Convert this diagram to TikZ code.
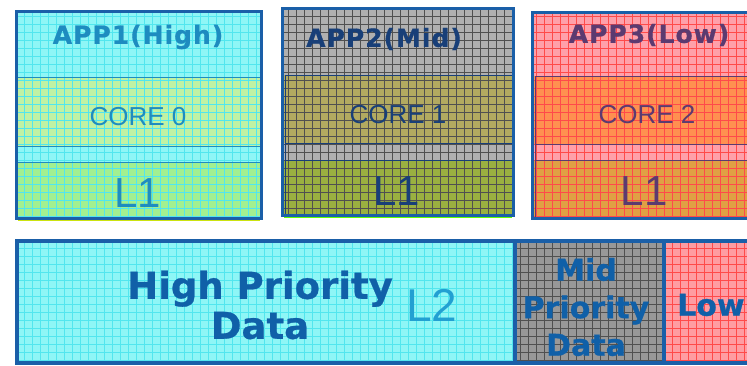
\documentclass[tikz,border=0pt]{standalone}
\usepackage{fontspec}
\newfontfamily\headfont{DejaVu Sans}[LetterSpace=4, BoldFeatures={FakeBold=0.7}]
\newfontfamily\blockfont{DejaVu Sans}[BoldFeatures={FakeBold=0.7}]
\newfontfamily\plainfont{Liberation Sans}

\definecolor{frameblue}{HTML}{1A5FA8}
\definecolor{cyanfill}{HTML}{8EF6F6}
\definecolor{cyangrid}{HTML}{52E6EE}
\definecolor{corecyan}{HTML}{C0F2A4}
\definecolor{l1cyan}{HTML}{A2F090}
\definecolor{grayfill}{HTML}{B0B0B0}
\definecolor{darkgrid}{HTML}{505050}
\definecolor{coreolive}{HTML}{B2AA60}
\definecolor{l1olive}{HTML}{9AB040}
\definecolor{pinkfill}{HTML}{FFA0AA}
\definecolor{redgrid}{HTML}{FF4A4A}
\definecolor{coreorange}{HTML}{FF9050}
\definecolor{l1orange}{HTML}{E0A044}
\definecolor{midgray}{HTML}{989898}
\definecolor{lowpink}{HTML}{FF9CA2}
\definecolor{txtteal}{HTML}{1E8CC0}
\definecolor{txtnavy}{HTML}{183F78}
\definecolor{txtplum}{HTML}{5C3A70}
\definecolor{txtblue}{HTML}{1060A8}
\definecolor{txtlight}{HTML}{22A0D2}

% filled panel with a square grid laid over it
\newcommand\gridpanel[6]{%
  \begin{scope}
    \clip (#1,#2) rectangle (#3,#4);
    \fill[#5] (#1,#2) rectangle (#3,#4);
    \foreach \gx in {0,8,...,760} \draw[#6, line width=0.45pt] (\gx,#2) -- (\gx,#4);
    \foreach \gy in {0,8,...,376} \draw[#6, line width=0.45pt] (#1,\gy) -- (#3,\gy);
  \end{scope}}

\tikzset{
  x=1pt, y=-1pt,
  frame/.style={draw=frameblue, line width=3pt},
  bigframe/.style={draw=frameblue, line width=3.8pt},
  divider/.style={line width=0.8pt},
  apptitle/.style={font=\headfont\bfseries\fontsize{25}{28}\selectfont, inner sep=0pt},
  corelabel/.style={font=\plainfont\fontsize{26}{30}\selectfont, inner sep=0pt},
  cachelabel/.style={font=\plainfont\fontsize{42}{46}\selectfont, inner sep=0pt},
  datalabel/.style={font=\blockfont\bfseries\fontsize{30}{37.5}\selectfont, align=center, inner sep=0pt, text=txtblue},
}

\begin{document}
\begin{tikzpicture}
\useasboundingbox (0,0) rectangle (747,365);

% ---- APP1 / CORE 0
\gridpanel{16}{11}{261}{77}{cyanfill}{cyangrid}
\gridpanel{16}{77}{261}{146}{corecyan}{cyangrid}
\gridpanel{16}{146}{261}{162}{cyanfill}{cyangrid}
\gridpanel{16}{162}{261}{217}{l1cyan}{cyangrid}
\draw[divider, draw=txtteal] (16,77) -- (261,77) (16,146) -- (261,146) (16,162) -- (261,162);
\draw[line width=2pt, draw=yellow!80!green] (18,220) -- (260,220);
\draw[frame] (16,11) rectangle (261,218);

% ---- APP2 / CORE 1
\gridpanel{282}{8}{513}{75}{grayfill}{darkgrid}
\gridpanel{282}{75}{513}{143}{coreolive}{darkgrid}
\gridpanel{282}{143}{513}{160}{grayfill}{darkgrid}
\gridpanel{282}{160}{513}{214}{l1olive}{darkgrid}
\draw[divider, draw=txtnavy] (285,75) -- (513,75) (285,75) -- (285,214) (285,143) -- (513,143) (285,160) -- (513,160);
\draw[line width=2pt, draw=green!60!yellow] (284,217) -- (512,217);
\draw[frame] (282,8) rectangle (513,215);

% ---- APP3 / CORE 2
\gridpanel{532}{12}{752}{76}{pinkfill}{redgrid}
\gridpanel{532}{76}{752}{144}{coreorange}{redgrid}
\gridpanel{532}{144}{752}{160}{pinkfill}{redgrid}
\gridpanel{532}{160}{752}{217}{l1orange}{redgrid}
\draw[divider, draw=txtplum] (535,76) -- (752,76) (535,76) -- (535,217) (535,144) -- (752,144) (535,160) -- (752,160);
\draw[frame] (532,12) rectangle (754,218);

% ---- shared L2
\gridpanel{17}{241}{515}{363}{cyanfill}{cyangrid}
\gridpanel{515}{241}{664}{363}{midgray}{darkgrid}
\gridpanel{664}{241}{752}{363}{lowpink}{redgrid}
\draw[bigframe] (17,241) rectangle (515,363);
\draw[bigframe] (515,241) rectangle (664,363);
\draw[bigframe] (664,241) rectangle (754,363);

% ---- labels
\node[apptitle, text=txtteal] (app1) at (138,37) {APP1(High)};
\node[corelabel, text=txtteal] (core0) at (138,117) {CORE 0};
\node[cachelabel, text=txtteal] (l1a) at (138,193) {L1};

\node[apptitle, text=txtnavy] (app2) at (384,39) {APP2(Mid)};
\node[corelabel, text=txtnavy] (core1) at (398,115) {CORE 1};
\node[cachelabel, text=txtnavy] (l1b) at (397,191) {L1};

\node[apptitle, text=txtplum] (app3) at (649,35) {APP3(Low)};
\node[corelabel, text=txtplum] (core2) at (647,115) {CORE 2};
\node[cachelabel, text=txtplum] (l1c) at (644,191) {L1};

\node[datalabel, font=\blockfont\bfseries\fontsize{37}{40}\selectfont] (hidata) at (260,305) {High Priority\\Data};
\node[font=\plainfont\fontsize{46}{50}\selectfont, text=txtlight, inner sep=0pt] (l2) at (432,305) {L2};
\node[datalabel] (middata) at (586,307) {Mid\\Priority\\Data};
\node[datalabel, anchor=west] (lowdata) at (677,305) {Low};
\end{tikzpicture}
\end{document}
